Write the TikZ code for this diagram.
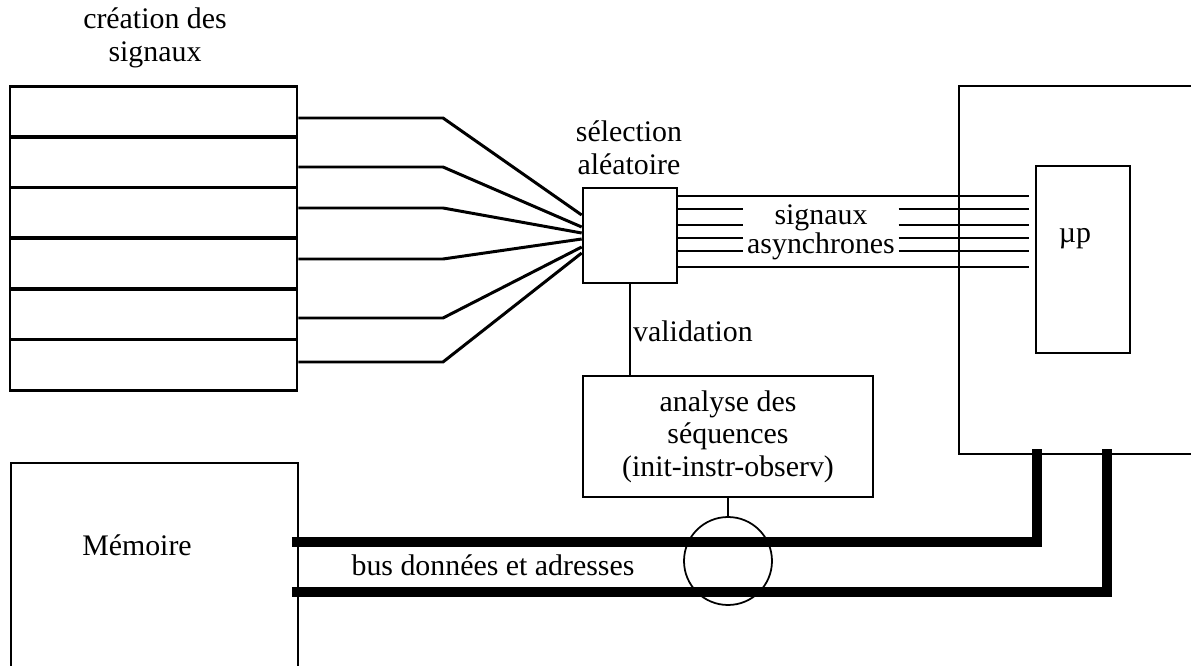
\documentclass[tikz,border=0pt]{standalone}
\usepackage{fontspec}
\setmainfont{Liberation Serif}
\begin{document}
\begin{tikzpicture}[
        x=0.02cm, y=-0.02cm,
        every node/.style={align=center, font=\fontsize{17}{18.5}\selectfont},
        box/.style={draw, line width=1.5pt, inner sep=0pt},
        frame/.style={draw, line width=1.1pt, inner sep=0pt},
        wire/.style={line width=1.7pt},
        bus/.style={line width=5.7pt, line join=miter}
    ]
        \clip (0,0) rectangle (1191,666);

        % Signal generators
        \node (title) at (155,38) {création des\\signaux};
        \foreach \i/\yc in {0/112,1/162,2/212.5,3/263.5,4/314.5,5/365}
            \node[box, minimum width=5.74cm, minimum height=1.01cm] (gen\i) at (153.5,\yc) {};

        % Random selection
        \node (seltxt) at (629,148) {sélection\\aléatoire};
        \node[box, minimum width=1.88cm, minimum height=1.9cm] (sel) at (630,235.5) {};

        % Processor
        \node[frame, minimum width=5.82cm, minimum height=7.36cm] (cpu) at (1104.5,270) {};
        \node[box, minimum width=1.88cm, minimum height=3.74cm] (up) at (1083,259.5) {};
        \node (uptxt) at (1075,239) {µp};

        % Sequence analysis
        \node[frame, minimum width=5.8cm, minimum height=2.42cm] (ana) at (728,436.5) {analyse des\\séquences\\(init-instr-observ)};
        \node[anchor=west] (valid) at (627,331) {validation};
        \node[draw, circle, line width=1pt, minimum size=1.76cm, inner sep=0pt] (probe) at (728,561) {};

        % Memory
        \node[frame, minimum width=5.74cm, minimum height=4.74cm] (mem) at (154.5,581.5) {};
        \node (memtxt) at (137,545) {Mémoire};
        \node (bustxt) at (493,565) {bus données et adresses};

        % Wires to the selector
        \foreach \i/\ya/\yb in {0/118/215,1/167/227,2/208/233,3/259/239,4/318/247,5/362/253}
            \draw[wire] (gen\i.east |- 0,\ya) -- (443,\ya) -- (sel.west |- 0,\yb);

        % Asynchronous signals
        \node[inner sep=2pt, font=\fontsize{17}{16.5}\selectfont] (async) at (821,232) {signaux\\asynchrones};
        \foreach \y in {196,267}
            \draw[wire, shorten >=0.12cm] (sel.east |- 0,\y) -- (up.west |- 0,\y);
        \foreach \y in {209,225,238,251} {
            \draw[wire] (sel.east |- 0,\y) -- (async.west |- 0,\y);
            \draw[wire, shorten >=0.12cm] (async.east |- 0,\y) -- (up.west |- 0,\y);
        }

        % Links
        \draw[line width=1.1pt] (sel.south) -- (sel.south |- ana.north);
        \draw[line width=1.1pt] (ana.south) -- (probe.north);

        % Buses
        \coordinate (tapA) at (1037,449);
        \coordinate (tapB) at (1107,449);
        \draw[bus, shorten <=-0.14cm] (mem.east |- 0,542) -- (tapA |- 0,542) -- (tapA);
        \draw[bus, shorten <=-0.14cm] (mem.east |- 0,592) -- (tapB |- 0,592) -- (tapB);
\end{tikzpicture}
\end{document}
